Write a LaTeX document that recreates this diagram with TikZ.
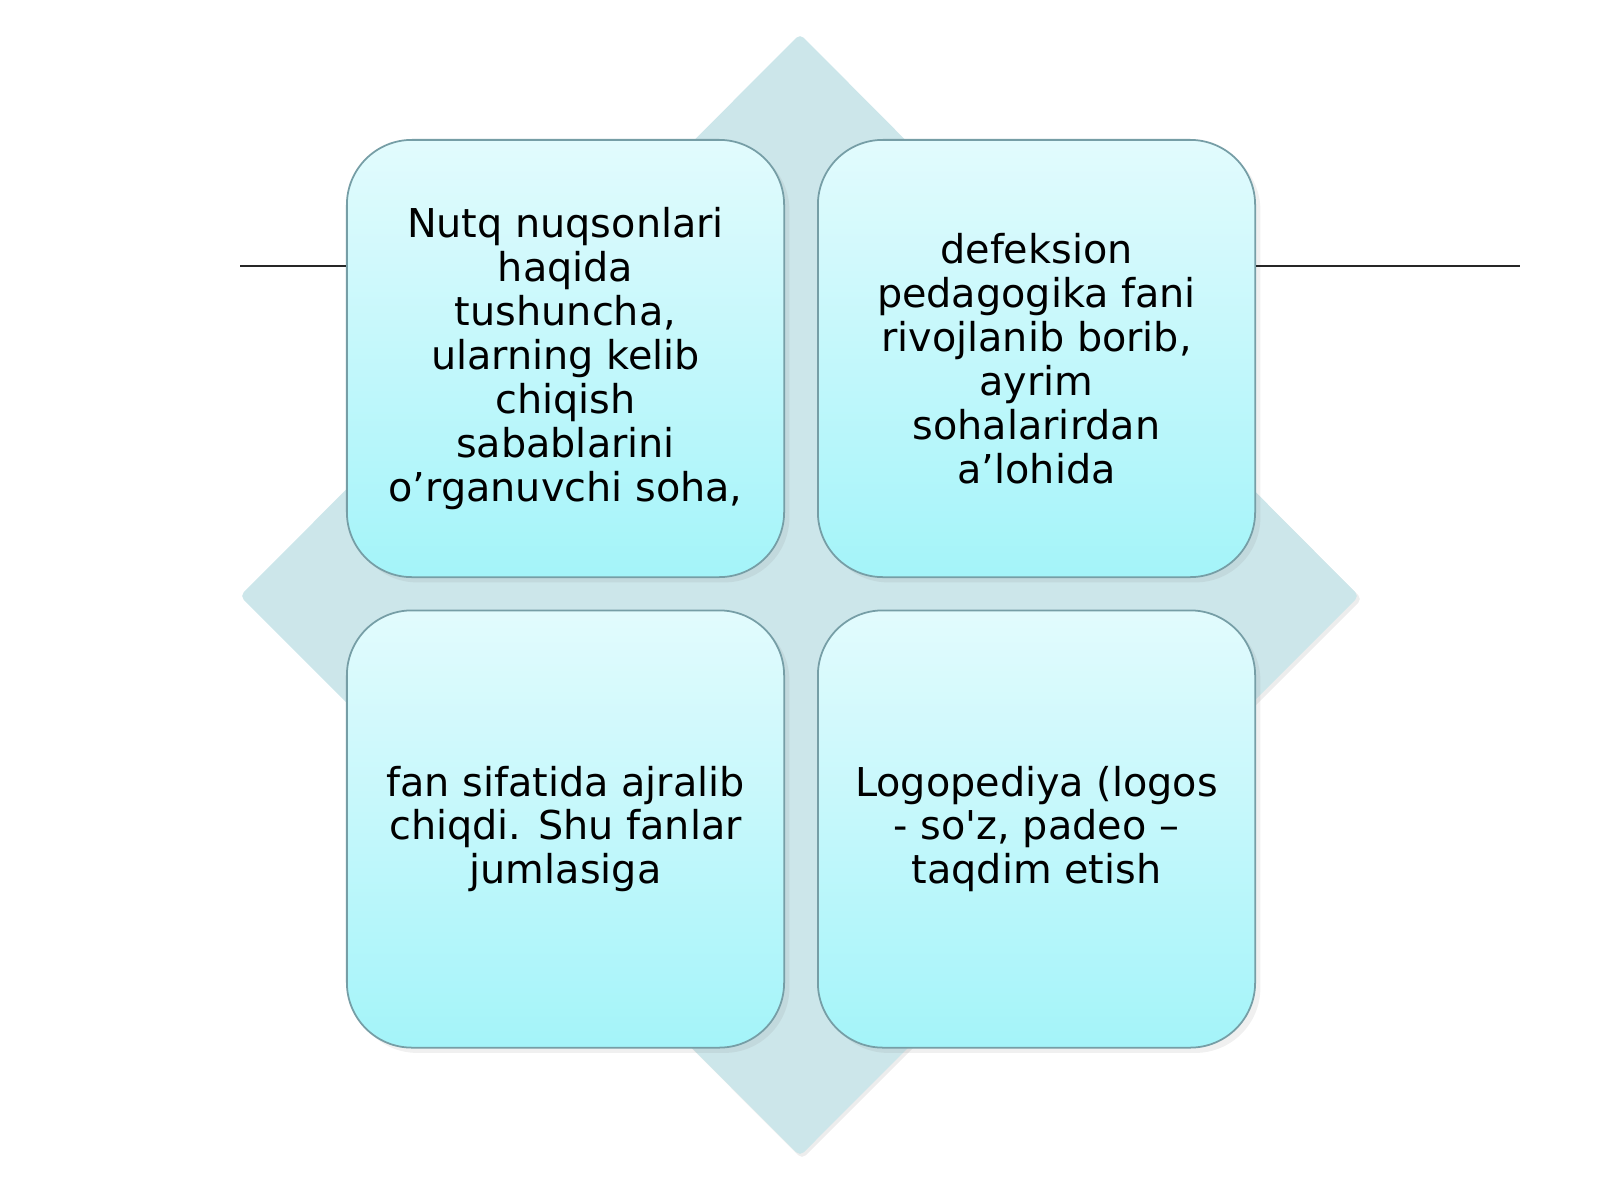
\documentclass[tikz,border=0pt]{standalone}
\usepackage{fontspec}
\newfontfamily\boxfont{DejaVu Sans}
\usetikzlibrary{shadows}

\definecolor{diamfill}{RGB}{204,230,234}
\definecolor{boxtop}{RGB}{226,251,253}
\definecolor{boxbot}{RGB}{164,244,249}
\definecolor{boxline}{RGB}{118,158,166}

\tikzset{
  cardbox/.style={rounded corners=0.65cm, minimum width=4.37cm, minimum height=4.37cm,
    draw=boxline, line width=0.5pt, top color=boxtop, bottom color=boxbot,
    align=center, inner sep=2pt, font=\boxfont\fontsize{11.3}{12.5}\selectfont,
    drop shadow={opacity=0.12, shadow xshift=1.5pt, shadow yshift=-1.5pt}},
  sideline/.style={line width=0.6pt, black!85}
}

\begin{document}
\begin{tikzpicture}[x=0.01cm,y=-0.01cm]

    % Cadre de la page
    \useasboundingbox (0,0) rectangle (1600,1200);

    % Losange de fond
    \fill[black, opacity=0.07, rounded corners=1.5pt] (802,38) -- (1362,599) -- (802,1159) -- (244,599) -- cycle;
    \fill[diamfill, rounded corners=1.5pt] (800,34) -- (1359,596) -- (800,1156) -- (240,596) -- cycle;

    % ---- Cases ----
    \node[cardbox] (nuqson) at (565.5,358.5) {Nutq nuqsonlari\\haqida\\tushuncha,\\ularning kelib\\chiqish\\sabablarini\\o’rganuvchi soha,};
    \node[cardbox] (defek) at (1036.5,358.5) {defeksion\\pedagogika fani\\rivojlanib borib,\\ayrim\\sohalarirdan\\a’lohida};
    \node[cardbox] (fan) at (565.5,829) {fan sifatida ajralib\\chiqdi. Shu fanlar\\jumlasiga};
    \node[cardbox] (logo) at (1036.5,829) {Logopediya (logos\\- so\textquotesingle z, padeo –\\taqdim etish};

    % Traits horizontaux
    \coordinate (gauche) at (240,266);
    \coordinate (droite) at (1520,266);
    \draw[sideline] (gauche) -- (gauche -| nuqson.west);
    \draw[sideline] (defek.east |- droite) -- (droite);

\end{tikzpicture}
\end{document}
